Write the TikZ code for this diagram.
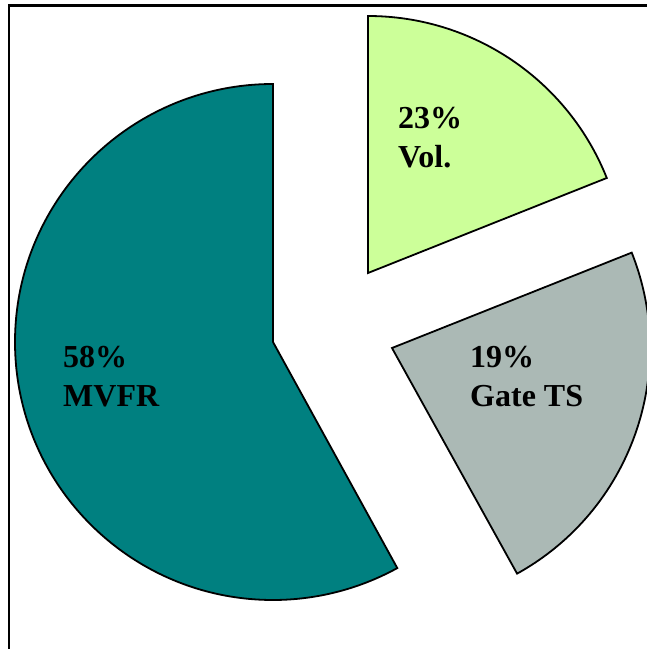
\documentclass[tikz,border=0pt]{standalone}
\usepackage{fontspec}
\setmainfont{Liberation Serif}
\definecolor{mvfr}{HTML}{008080}
\definecolor{vol}{HTML}{CCFF99}
\definecolor{gate}{HTML}{ABB9B5}
\begin{document}
\begin{tikzpicture}[x=1pt,y=1pt,
  slice/.style={draw=black,line width=1.8pt,line join=miter},
  lbl/.style={font=\fontsize{32}{39}\selectfont\bfseries,align=left,anchor=base west,inner sep=0pt}]
\useasboundingbox (0,0) rectangle (647,649);
% frame
\draw[line width=2.4pt] (9,0) -- (9,643.5) -- (647,643.5);
% centres
\coordinate (cM) at (273,307);
\coordinate (cV) at (368,376);
\coordinate (cG) at (392,301);
% slices
\path[slice,fill=mvfr] (cM) -- ++(90:258) arc[start angle=90,end angle=298.8,radius=258] -- cycle;
\path[slice,fill=vol] (cV) -- ++(90:257) arc[start angle=90,end angle=21.7,radius=257] -- cycle;
\path[slice,fill=gate] (cG) -- ++(21.7:258) arc[start angle=21.7,end angle=-61.0,radius=258] -- cycle;
% labels
\node[lbl] (lV) at (398,481) {23\%\\Vol.};
\node[lbl] (lM) at (63,242) {58\%\\MVFR};
\node[lbl] (lG) at (470,242) {19\%\\Gate TS};
\end{tikzpicture}
\end{document}
